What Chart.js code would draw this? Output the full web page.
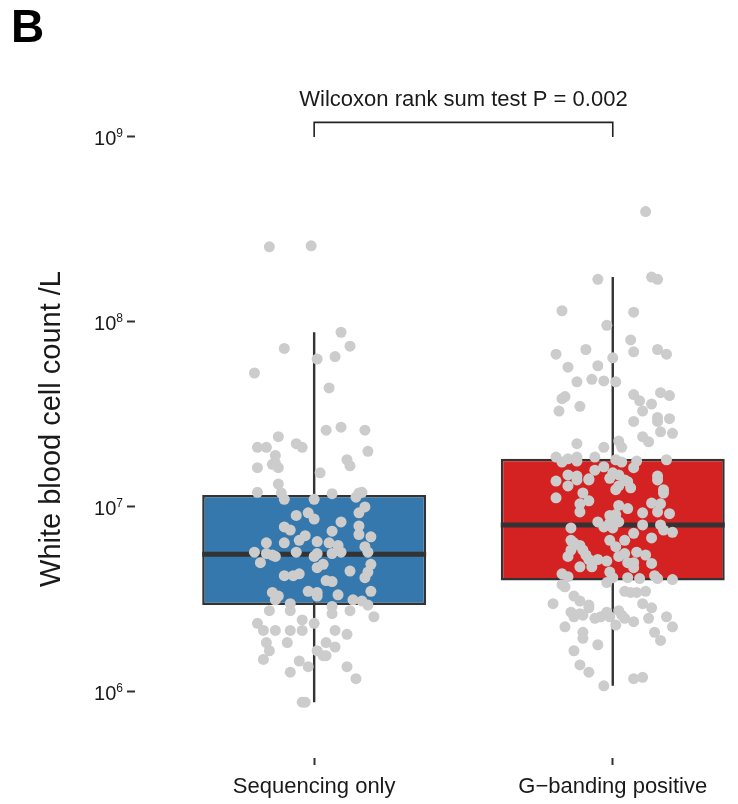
<!DOCTYPE html>
<html>
<head>
<meta charset="utf-8">
<script src="https://cdn.jsdelivr.net/npm/chart.js@4"></script>
<style>
  html, body { margin: 0; padding: 0; background: #fff; }
</style>
</head>
<body>
<canvas id="wbcChart" width="738" height="804"></canvas>
<script>
// groups on the x axis
var groups = ['Sequencing only', 'G\u2212banding positive'];
var boxColors = ['#3478ad', '#d42222'];

// white blood cell counts, in 10^6 cells /L
var UNIT = 1e6;
var seqOnlyWbc = [
  255, 258, 88, 72, 74, 63, 65, 53, 44, 26,
  27, 26, 24, 21, 21, 22, 21, 20, 19, 18,
  16.7, 16.3, 17, 16.3, 17.3, 15.3, 13.3, 12, 11.9, 11,
  11, 11.8, 11.3, 11.9, 12, 10, 9.3, 9.0, 9.3, 8.6,
  8.3, 7.8, 7.5, 7.9, 7.1, 7.4, 7.0, 6.6, 6.9, 6.4,
  6.4, 6.5, 6.4, 6.2, 6.1, 5.7, 5.6, 5.5, 5.7, 5.6,
  5.6, 5.7, 5.7, 5.4, 5.4, 5.0, 4.7, 4.9, 4.9, 4.45,
  4.5, 4.25, 4.25, 4.35, 4.15, 4.0, 3.95, 3.5, 3.45, 3.3,
  3.15, 3.45, 3.3, 3.35, 3.5, 3.15, 3.1, 2.95, 3.0, 2.9,
  2.75, 2.75, 2.65, 2.75, 2.55, 2.35, 2.15, 2.45, 2.15, 2.35,
  2.15, 2.15, 2.15, 2.05, 1.85, 1.85, 1.85, 1.67, 1.67, 1.57,
  1.57, 1.75, 1.5, 1.47, 1.37, 1.37, 1.28, 1.18, 0.88, 0.88
];
// horizontal jitter of each point, in category widths
var seqOnlyJitter = [
  -0.15, -0.01, 0.09, -0.10, 0.12, 0.01, 0.07, -0.20, 0.05, 0.04,
  0.09, 0.17, -0.12, -0.19, -0.16, -0.06, -0.04, 0.18, -0.13, 0.11,
  0.12, -0.19, -0.14, -0.12, -0.13, 0.02, -0.12, -0.19, -0.11, -0.10,
  0.00, 0.06, 0.14, 0.15, 0.16, 0.17, 0.15, -0.06, -0.02, 0.00,
  0.09, -0.10, -0.08, 0.15, 0.15, 0.06, -0.03, -0.05, 0.19, -0.16,
  -0.10, 0.01, 0.05, 0.08, 0.17, -0.20, -0.16, -0.14, -0.06, 0.01,
  0.06, 0.09, 0.18, -0.13, 0.00, -0.18, 0.01, 0.03, 0.19, 0.18,
  0.12, -0.10, -0.07, -0.05, 0.17, 0.04, 0.06, -0.02, -0.14, -0.12,
  -0.13, 0.01, 0.01, 0.08, 0.19, 0.13, 0.16, 0.18, -0.08, 0.06,
  -0.15, -0.08, 0.06, 0.12, 0.20, -0.19, -0.17, -0.04, -0.04, 0.00,
  -0.13, -0.08, 0.07, 0.11, -0.16, -0.09, 0.04, -0.15, 0.01, 0.03,
  0.04, 0.07, -0.17, -0.05, -0.02, 0.11, -0.08, 0.14, -0.04, -0.03
];
var gBandWbc = [
  395, 170, 175, 170, 115, 113, 96, 80, 71, 67,
  69, 71, 67, 64, 57, 58, 47.5, 49, 48, 47.5,
  39.5, 38.5, 35, 33, 40.5, 37.5, 41.5, 40, 36, 33,
  30.5, 30, 29, 29, 25.5, 25, 24, 22.5, 22, 21,
  22.7, 21, 18.6, 17.5, 18.2, 18.6, 17.7, 18.6, 18, 17.5,
  17.7, 16.3, 18, 14.9, 14.7, 14.2, 15.8, 16.5, 15.3, 14.9,
  14.3, 14.7, 13.8, 13, 13, 13.7, 12.7, 12.4, 14, 14,
  14, 12.4, 14, 11.2, 11.9, 10.8, 10.4, 9.4, 11.9, 10.5,
  10.4, 10.2, 9.8, 9.3, 9.4, 9.2, 9.0, 9.1, 8.3, 7.8,
  8.2, 8.3, 7.7, 8.0, 8.0, 7.5, 7.3, 7.7, 6.6, 6.4,
  7.2, 6.6, 6.6, 6.1, 6.8, 6.2, 5.85, 5.5, 5.2, 5.4,
  5.85, 5.2, 5.1, 5.4, 5.6, 5.7, 5.5, 5.0, 5.0, 4.95,
  4.75, 4.75, 4.7, 4.45, 4.35, 4.2, 4.15, 4.15, 4.1, 4.25,
  4.1, 4.05, 3.8, 3.7, 3.9, 3.5, 3.45, 3.45, 3.5, 3.0,
  3.3, 3.1, 2.95, 2.85, 3.0, 2.85, 2.7, 2.55, 2.65, 2.6,
  2.5, 2.55, 2.7, 2.55, 2.75, 2.6, 2.5, 2.4, 2.5, 2.55,
  2.25, 2.25, 2.3, 2.1, 1.95, 2.1, 1.9, 1.8, 1.67, 1.4,
  1.28, 1.18, 1.2, 1.08
];
var gBandJitter = [
  0.11, -0.05, 0.13, 0.15, -0.17, 0.07, -0.02, 0.06, -0.09, -0.19,
  0.07, 0.15, 0.18, 0.00, -0.15, -0.05, -0.12, -0.07, -0.03, 0.01,
  -0.16, -0.17, -0.11, -0.18, 0.07, 0.09, 0.16, 0.19, 0.13, 0.10,
  0.15, 0.19, 0.15, 0.07, 0.16, 0.20, 0.10, 0.12, -0.12, -0.03,
  0.02, 0.03, -0.19, -0.17, -0.15, -0.12, -0.12, -0.06, 0.01, 0.03,
  0.08, 0.07, 0.18, -0.15, -0.12, -0.08, -0.06, -0.03, 0.00, 0.02,
  -0.01, 0.15, -0.19, -0.15, 0.02, 0.05, 0.06, 0.17, -0.12, -0.08,
  0.04, 0.01, 0.15, -0.19, -0.10, -0.08, -0.11, -0.11, 0.17, 0.13,
  0.16, 0.02, 0.05, 0.10, 0.15, 0.19, -0.01, 0.01, -0.05, -0.03,
  -0.01, 0.02, 0.00, 0.10, 0.16, 0.17, 0.20, -0.14, -0.14, -0.13,
  0.07, 0.04, -0.01, 0.01, 0.13, -0.11, -0.10, -0.09, -0.08, -0.15,
  -0.14, -0.05, -0.02, 0.02, 0.04, 0.08, 0.11, 0.07, 0.05, 0.13,
  -0.11, -0.07, 0.07, -0.01, -0.17, -0.15, 0.00, 0.05, 0.09, 0.14,
  0.15, 0.20, -0.17, -0.16, -0.02, 0.04, 0.06, 0.08, 0.11, -0.20,
  -0.13, -0.11, -0.08, -0.08, 0.10, 0.13, -0.14, -0.13, -0.11, -0.10,
  -0.06, -0.04, -0.02, -0.01, 0.02, 0.03, 0.04, 0.07, 0.12, 0.18,
  0.20, -0.16, 0.01, -0.10, -0.10, 0.14, 0.16, -0.05, -0.13, -0.11,
  -0.08, 0.07, 0.10, -0.03
];

// box summaries (10^6 /L), one entry per group
var boxLow = [0.88, 1.08];
var boxQ1 = [2.95, 4.0];
var boxMedian = [5.55, 8.0];
var boxQ3 = [11.6, 18.2];
var boxHigh = [88, 175];

var yTicks = [1e6, 1e7, 1e8, 1e9];
var testLabel = 'Wilcoxon rank sum test P = 0.002';

var FONT = '"Liberation Sans", Arial, Helvetica, sans-serif';

function toPoints(values, jitter, groupIndex) {
  return values.map(function (v, i) {
    return { x: groupIndex + jitter[i], y: v * UNIT };
  });
}

Chart.defaults.font.family = FONT;

// whiskers, medians, power-of-ten labels and the comparison bracket
var boxExtras = {
  id: 'boxExtras',
  beforeDatasetsDraw: function (chart) {
    var x = chart.scales.x, y = chart.scales.y, c = chart.ctx;
    c.save();
    c.strokeStyle = '#333333';
    c.lineWidth = 2.4;
    groups.forEach(function (g, i) {
      var px = x.getPixelForValue(i);
      c.beginPath();
      c.moveTo(px, y.getPixelForValue(boxHigh[i] * UNIT));
      c.lineTo(px, y.getPixelForValue(boxLow[i] * UNIT));
      c.stroke();
    });
    c.restore();
  },
  afterDatasetDraw: function (chart, args) {
    if (args.index !== 0) return;
    var y = chart.scales.y, c = chart.ctx;
    c.save();
    c.strokeStyle = '#333333';
    c.lineWidth = 5;
    chart.getDatasetMeta(0).data.forEach(function (bar, i) {
      var py = y.getPixelForValue(boxMedian[i] * UNIT);
      c.beginPath();
      c.moveTo(bar.x - bar.width / 2, py);
      c.lineTo(bar.x + bar.width / 2, py);
      c.stroke();
    });
    c.restore();
  },
  afterDraw: function (chart) {
    var x = chart.scales.x, y = chart.scales.y, c = chart.ctx;
    c.save();

    // y tick labels as 10 with a raised exponent
    var labelRight = y.right - 8 - 4;
    c.fillStyle = '#1a1a1a';
    c.textBaseline = 'alphabetic';
    c.textAlign = 'right';
    yTicks.forEach(function (v) {
      var py = y.getPixelForValue(v);
      var exp = String(Math.round(Math.log10(v)));
      c.font = '12px ' + FONT;
      var ew = c.measureText(exp).width;
      c.fillText(exp, labelRight, py);
      c.font = '20px ' + FONT;
      c.fillText('10', labelRight - ew, py + 8.5);
    });

    // comparison bracket
    var x0 = x.getPixelForValue(0), x1 = x.getPixelForValue(1);
    var yTop = y.getPixelForValue(1.2e9), yTip = y.getPixelForValue(1e9);
    c.strokeStyle = '#222';
    c.lineWidth = 1.6;
    c.beginPath();
    c.moveTo(x0, yTip);
    c.lineTo(x0, yTop);
    c.lineTo(x1, yTop);
    c.lineTo(x1, yTip);
    c.stroke();

    c.fillStyle = '#1a1a1a';
    c.textAlign = 'center';
    c.font = '22px ' + FONT;
    c.fillText(testLabel, (x0 + x1) / 2, yTop - 16);

    c.fillStyle = '#000';
    c.textAlign = 'left';
    c.font = 'bold 46px ' + FONT;
    c.fillText('B', 11, 42);
    c.restore();
  }
};

var ctx = document.getElementById('wbcChart').getContext('2d');
var wbcChart = new Chart(ctx, {
  type: 'scatter',
  data: {
    datasets: [{
      type: 'bar',
      data: groups.map(function (g, i) {
        return { x: i, y: [boxQ1[i] * UNIT, boxQ3[i] * UNIT] };
      }),
      backgroundColor: boxColors,
      borderColor: '#333333',
      borderWidth: 2.5,
      borderSkipped: false,
      barPercentage: 0.75,
      categoryPercentage: 1,
      order: 1
    }, {
      data: toPoints(seqOnlyWbc, seqOnlyJitter, 0),
      pointRadius: 5.5,
      pointBackgroundColor: '#cccccc',
      pointBorderWidth: 0,
      order: 0
    }, {
      data: toPoints(gBandWbc, gBandJitter, 1),
      pointRadius: 5.5,
      pointBackgroundColor: '#cccccc',
      pointBorderWidth: 0,
      order: 0
    }]
  },
  options: {
    responsive: false,
    animation: false,
    layout: { padding: { left: 20, top: 100, right: 0, bottom: 0 } },
    plugins: {
      legend: { display: false },
      tooltip: { enabled: false }
    },
    scales: {
      x: {
        type: 'linear',
        min: -0.6,
        max: 1.401,
        offset: false,
        afterBuildTicks: function (s) {
          s.ticks = groups.map(function (g, i) { return { value: i }; });
        },
        afterFit: function (s) { s.height = 46; },
        grid: { offset: false, drawOnChartArea: false, drawTicks: true, tickLength: 7, tickWidth: 2, tickColor: '#333' },
        border: { display: false },
        ticks: {
          autoSkip: false,
          maxRotation: 0,
          padding: 9,
          color: '#1a1a1a',
          font: { size: 22 },
          callback: function (v) { return groups[v]; }
        }
      },
      y: {
        type: 'logarithmic',
        min: Math.pow(10, 5.643),
        max: Math.pow(10, 9.2),
        afterBuildTicks: function (s) {
          s.ticks = yTicks.map(function (v) { return { value: v }; });
        },
        afterFit: function (s) { s.width = 115; },
        grid: { drawOnChartArea: false, drawTicks: true, tickLength: 8, tickWidth: 2, tickColor: '#333' },
        border: { display: false },
        ticks: {
          padding: 5,
          color: 'rgba(0,0,0,0)',
          font: { size: 18 },
          callback: function () { return ''; }
        },
        title: {
          display: true,
          text: 'White blood cell count /L',
          color: '#1a1a1a',
          font: { size: 29 },
          padding: { top: 15, bottom: 0 }
        }
      }
    }
  },
  plugins: [boxExtras]
});
</script>
</body>
</html>
